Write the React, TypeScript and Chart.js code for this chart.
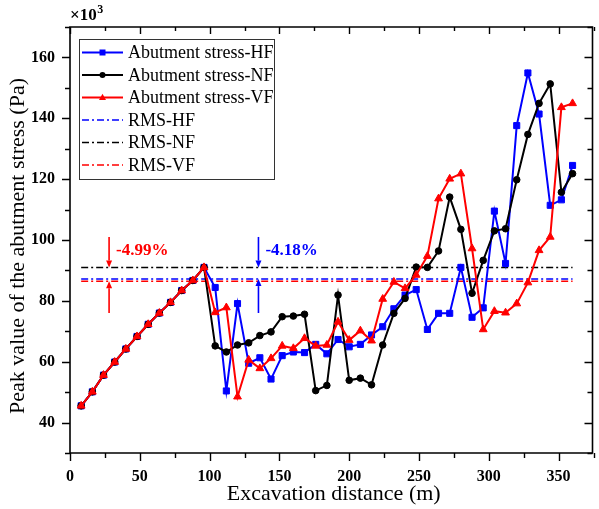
import React, { useEffect, useRef } from "react";
import { Chart, registerables } from "chart.js";

Chart.register(...registerables);

// Excavation distance (m)
const distance = [
  8, 16, 24, 32, 40, 48, 56, 64, 72, 80, 88, 96, 104, 112, 120, 128, 136, 144,
  152, 160, 168, 176, 184, 192, 200, 208, 216, 224, 232, 240, 248, 256, 264, 272,
  280, 288, 296, 304, 312, 320, 328, 336, 344, 352, 360,
];

// Peak abutment stress (×10³ Pa)
const stressHF = [
  45.5, 50.1, 55.6, 59.9, 64.2, 68.3, 72.3, 76.0, 79.5, 83.4, 86.7, 91.0,
  84.4, 50.4, 79.1, 59.5, 61.3, 54.3, 62.0, 63.2, 63.0, 65.7, 62.6, 67.3, 64.9,
  65.7, 68.8, 71.5, 77.4, 81.9, 83.7, 70.6, 75.9, 75.9, 91.0, 74.6, 77.7, 109.5,
  92.3, 137.6, 154.9, 141.4, 111.4, 113.2, 124.5,
];
const stressNF = [
  45.5, 50.1, 55.6, 59.9, 64.2, 68.3, 72.3, 76.0, 79.5, 83.4, 86.7, 91.0,
  65.2, 63.2, 65.5, 66.2, 68.6, 69.8, 74.8, 75.0, 75.6, 50.5, 52.2, 81.9, 53.9,
  54.6, 52.4, 65.5, 75.9, 80.8, 91.1, 91.0, 96.4, 114.1, 103.5, 82.5, 93.3, 103.0,
  103.7, 119.8, 134.7, 144.9, 151.3, 115.7, 121.8,
];
const stressVF = [
  45.5, 50.1, 55.6, 59.9, 64.2, 68.3, 72.3, 76.0, 79.5, 83.4, 86.7, 91.0,
  76.2, 77.8, 48.5, 60.6, 57.8, 61.1, 65.2, 64.4, 67.7, 65.2, 65.5, 73.1, 67.1,
  70.2, 66.9, 80.6, 86.2, 84.1, 88.5, 94.7, 113.6, 120.1, 121.8, 97.2, 70.6, 76.6,
  76.1, 79.1, 86.0, 96.6, 101.0, 143.6, 144.9,
];

// RMS levels (×10³ Pa)
const rmsNF = 90.95;
const rmsHF = 87.15;
const rmsVF = 86.41;
const rmsSpan = [8, 360];

// Axis ticks
const xTicks = [0, 50, 100, 150, 200, 250, 300, 350];
const xMinorTicks = [25, 75, 125, 175, 225, 275, 325, 375];
const yTicks = [40, 60, 80, 100, 120, 140, 160];
const yMinorTicks = [30, 50, 70, 90, 110, 130, 150, 170];

// Reduction markers: position, label, and arrow range
const reductionX = [28, 135];
const reductionLabels = ["-4.99%", "-4.18%"];
const reductionLevels = [rmsVF, rmsHF];
const reductionColors = ["#ff0000", "#0000ff"];
const arrowTop = 101;
const arrowBottom = 76;
const reductionLabelY = 96.6;

const SERIF = "'Liberation Serif', 'Times New Roman', serif";
const BLUE = "#0000ff";
const RED = "#ff0000";
const BLACK = "#000000";

const toPoints = (ys: number[]) => distance.map((x, i) => ({ x, y: ys[i] }));
const flat = (v: number) => rmsSpan.map((x) => ({ x, y: v }));

const RMS_DASH = [7, 3, 2, 3];

const legendItems = [
  { label: "Abutment stress-HF", color: BLUE, marker: "rect", dash: [] as number[] },
  { label: "Abutment stress-NF", color: BLACK, marker: "circle", dash: [] as number[] },
  { label: "Abutment stress-VF", color: RED, marker: "triangle", dash: [] as number[] },
  { label: "RMS-HF", color: BLUE, marker: "", dash: RMS_DASH },
  { label: "RMS-NF", color: BLACK, marker: "", dash: RMS_DASH },
  { label: "RMS-VF", color: RED, marker: "", dash: RMS_DASH },
];

function drawMarker(ctx: CanvasRenderingContext2D, kind: string, x: number, y: number, r: number, color: string) {
  ctx.save();
  ctx.fillStyle = color;
  ctx.beginPath();
  if (kind === "rect") {
    ctx.rect(x - r, y - r, 2 * r, 2 * r);
  } else if (kind === "circle") {
    ctx.arc(x, y, r, 0, Math.PI * 2);
  } else if (kind === "triangle") {
    ctx.moveTo(x, y - r * 1.1);
    ctx.lineTo(x + r, y + r * 0.7);
    ctx.lineTo(x - r, y + r * 0.7);
    ctx.closePath();
  }
  ctx.fill();
  ctx.restore();
}

function drawArrow(ctx: CanvasRenderingContext2D, x: number, yFrom: number, yTo: number, color: string) {
  const dir = yTo > yFrom ? 1 : -1;
  const headLen = 7;
  const headHalf = 3;
  ctx.save();
  ctx.strokeStyle = color;
  ctx.fillStyle = color;
  ctx.lineWidth = 1.6;
  ctx.beginPath();
  ctx.moveTo(x, yFrom);
  ctx.lineTo(x, yTo - dir * headLen);
  ctx.stroke();
  ctx.beginPath();
  ctx.moveTo(x, yTo);
  ctx.lineTo(x - headHalf, yTo - dir * headLen);
  ctx.lineTo(x + headHalf, yTo - dir * headLen);
  ctx.closePath();
  ctx.fill();
  ctx.restore();
}

const decorPlugin = {
  id: "decor",
  afterDraw(chart: any) {
    const ctx: CanvasRenderingContext2D = chart.ctx;
    const { left, right, top, bottom } = chart.chartArea;
    const xs = chart.scales.x;
    const ys = chart.scales.y;

    ctx.save();
    // Frame
    ctx.strokeStyle = "#000";
    ctx.lineWidth = 1.6;
    ctx.setLineDash([]);
    ctx.beginPath();
    ctx.rect(left, top, right - left - 1, bottom - top);
    ctx.stroke();

    // Ticks
    ctx.lineWidth = 1.4;
    const tickX = (v: number, len: number) => {
      const px = Math.round(xs.getPixelForValue(v)) + 0.5;
      if (px > right + 1) return;
      ctx.beginPath();
      ctx.moveTo(px, bottom);
      ctx.lineTo(px, bottom + len);
      ctx.moveTo(px, top);
      ctx.lineTo(px, top + len - 1);
      ctx.stroke();
    };
    xTicks.forEach((v) => tickX(v, 8));
    xMinorTicks.forEach((v) => tickX(v, 5));
    const tickY = (v: number, len: number) => {
      const py = Math.round(ys.getPixelForValue(v)) + 0.5;
      if (py < top - 1) return;
      ctx.beginPath();
      ctx.moveTo(left, py);
      ctx.lineTo(left - len, py);
      ctx.moveTo(right - 1, py);
      ctx.lineTo(right - 1 - len, py);
      ctx.stroke();
    };
    yTicks.forEach((v) => tickY(v, 8));
    yMinorTicks.forEach((v) => tickY(v, 5));

    // Multiplier
    ctx.fillStyle = "#000";
    ctx.textBaseline = "alphabetic";
    ctx.textAlign = "left";
    ctx.font = `bold 17px ${SERIF}`;
    ctx.fillText("×10", 70, 20);
    const w = ctx.measureText("×10").width;
    ctx.font = `bold 12px ${SERIF}`;
    ctx.fillText("3", 70 + w + 0.5, 13);

    // Axis titles
    ctx.font = `22px ${SERIF}`;
    ctx.textAlign = "center";
    ctx.textBaseline = "middle";
    ctx.fillText("Excavation distance (m)", (left + right) / 2 + 2, 494);
    ctx.save();
    ctx.translate(18, (top + bottom) / 2 + 6);
    ctx.rotate(-Math.PI / 2);
    ctx.fillText("Peak value of the abutment stress (Pa)", 0, 0);
    ctx.restore();

    // Reduction arrows and labels
    reductionX.forEach((xv, i) => {
      const px = xs.getPixelForValue(xv);
      const color = reductionColors[i];
      drawArrow(ctx, px, ys.getPixelForValue(arrowTop), ys.getPixelForValue(rmsNF), color);
      drawArrow(ctx, px, ys.getPixelForValue(arrowBottom), ys.getPixelForValue(reductionLevels[i]), color);
      ctx.fillStyle = color;
      ctx.font = `bold 17px ${SERIF}`;
      ctx.textAlign = "left";
      ctx.textBaseline = "middle";
      ctx.fillText(reductionLabels[i], px + 7, ys.getPixelForValue(reductionLabelY));
    });

    // Legend
    const boxL = 79, boxT = 39, boxR = 274, boxB = 179;
    ctx.fillStyle = "#fff";
    ctx.fillRect(boxL, boxT, boxR - boxL, boxB - boxT);
    ctx.strokeStyle = "#333";
    ctx.lineWidth = 1;
    ctx.strokeRect(boxL + 0.5, boxT + 0.5, boxR - boxL, boxB - boxT);
    const rowY = [52.5, 75, 97.5, 120, 142.5, 165];
    legendItems.forEach((item, i) => {
      const y = rowY[i];
      ctx.save();
      ctx.strokeStyle = item.color;
      ctx.lineWidth = item.dash.length ? 1.4 : 2;
      ctx.setLineDash(item.dash);
      ctx.beginPath();
      ctx.moveTo(82, y);
      ctx.lineTo(123, y);
      ctx.stroke();
      ctx.restore();
      if (item.marker) drawMarker(ctx, item.marker, 102.5, y, item.marker === "triangle" ? 3.5 : 3, item.color);
      ctx.fillStyle = "#000";
      ctx.font = `18px ${SERIF}`;
      ctx.textAlign = "left";
      ctx.textBaseline = "middle";
      ctx.fillText(item.label, 128, y + 1);
    });
    ctx.restore();
  },
};

export default function App() {
  const ref = useRef<HTMLCanvasElement>(null);

  useEffect(() => {
    if (!ref.current) return;
    const tickFont = { family: SERIF, size: 16, weight: "bold" as const };
    const chart = new Chart(ref.current, {
      type: "line",
      data: {
        datasets: [
          {
            label: "Abutment stress-VF",
            data: toPoints(stressVF),
            borderColor: RED,
            backgroundColor: RED,
            borderWidth: 2,
            pointStyle: "triangle",
            pointRadius: 4.5,
            pointBorderWidth: 1,
            order: 0,
          },
          {
            label: "Abutment stress-NF",
            data: toPoints(stressNF),
            borderColor: BLACK,
            backgroundColor: BLACK,
            borderWidth: 2,
            pointStyle: "circle",
            pointRadius: 3.3,
            pointBorderWidth: 1,
            order: 1,
          },
          {
            label: "Abutment stress-HF",
            data: toPoints(stressHF),
            borderColor: BLUE,
            backgroundColor: BLUE,
            borderWidth: 2,
            pointStyle: "rect",
            pointRadius: 4.3,
            pointBorderWidth: 1,
            order: 2,
          },
          {
            label: "RMS-HF",
            data: flat(rmsHF),
            borderColor: BLUE,
            borderWidth: 1.5,
            borderDash: RMS_DASH,
            pointRadius: 0,
            order: 5,
          },
          {
            label: "RMS-NF",
            data: flat(rmsNF),
            borderColor: BLACK,
            borderWidth: 1.5,
            borderDash: RMS_DASH,
            pointRadius: 0,
            order: 4,
          },
          {
            label: "RMS-VF",
            data: flat(rmsVF),
            borderColor: RED,
            borderWidth: 1.5,
            borderDash: RMS_DASH,
            pointRadius: 0,
            order: 6,
          },
        ],
      },
      options: {
        responsive: false,
        animation: false,
        devicePixelRatio: 1,
        parsing: false as any,
        layout: { padding: { left: 0, top: 27, right: 0, bottom: 0 } },
        plugins: { legend: { display: false }, tooltip: { enabled: false } },
        scales: {
          x: {
            type: "linear",
            min: 0,
            max: 375,
            grid: { display: false, drawTicks: false },
            border: { display: false },
            afterBuildTicks: (s: any) => {
              s.ticks = xTicks.map((value) => ({ value }));
            },
            afterFit: (s: any) => {
              s.height = 56;
            },
            ticks: {
              color: "#000",
              font: tickFont,
              padding: 14,
              maxRotation: 0,
              autoSkip: false,
            },
          },
          y: {
            type: "linear",
            min: 30,
            max: 170,
            grid: { display: false, drawTicks: false },
            border: { display: false },
            afterBuildTicks: (s: any) => {
              s.ticks = yTicks.map((value) => ({ value }));
            },
            afterFit: (s: any) => {
              s.width = 70;
            },
            ticks: {
              color: "#000",
              font: tickFont,
              padding: 15,
              autoSkip: false,
            },
          },
        },
      },
      plugins: [decorPlugin],
    });
    return () => chart.destroy();
  }, []);

  return (
    <div style={{ position: "absolute", left: 0, top: 0, width: 599, height: 509, background: "#fff" }}>
      <canvas ref={ref} width={599} height={509} style={{ display: "block", width: 599, height: 509 }} />
    </div>
  );
}
